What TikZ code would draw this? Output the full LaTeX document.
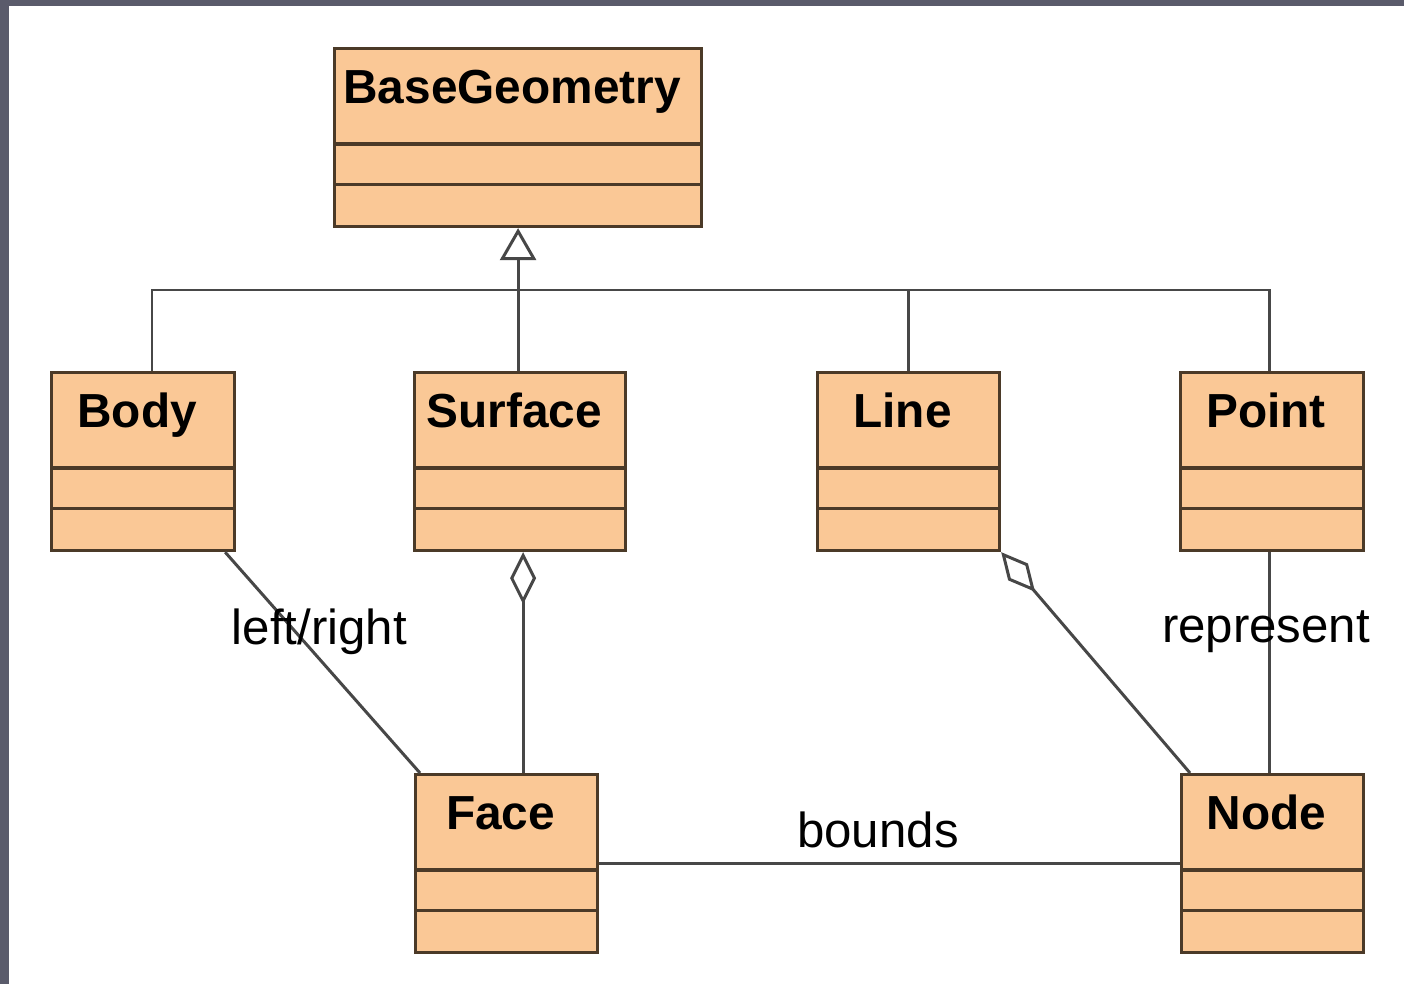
\documentclass[tikz,border=0pt]{standalone}
\usepackage{fontspec}
\setmainfont{Liberation Sans}
\usepackage{xcolor}
\usepackage{tikz}
\usetikzlibrary{positioning,arrows.meta}
\definecolor{clsfill}{HTML}{FAC896}
\definecolor{clsedge}{HTML}{4B3A28}
\definecolor{wire}{HTML}{474747}
\definecolor{frame}{HTML}{5A5B6B}

\begin{document}
\begin{tikzpicture}[
  cls/.style={draw=clsedge, line width=0.9pt, fill=clsfill, anchor=north west,
              inner sep=0pt, text height=0.55cm, text depth=1.23cm,
              execute at end node={\kern0.12cm},
              font=\bfseries\fontsize{13.6}{16}\selectfont},
  divider/.style={clsedge, line width=0.9pt},
  conn/.style={wire, line width=0.85pt},
  inherit/.style={conn, -{Triangle[open, length=0.32cm, width=0.36cm]}},
  aggr/.style={conn, {Diamond[open, length=0.52cm, width=0.26cm]}-},
  lbl/.style={font=\fontsize{14}{16}\selectfont, text=black},
]
\useasboundingbox (0,0) rectangle (14.04,9.84);
\fill[white] (0,0) rectangle (14.04,9.84);
\fill[frame] (0,9.78) rectangle (14.04,9.84);
\fill[frame] (0,0) rectangle (0.09,9.84);

% classes
\node[cls, minimum width=3.67cm] (geo) at (3.33,9.37) {BaseGeometry};
\node[cls, minimum width=1.83cm] (body) at (0.50,6.13) {Body};
\node[cls, minimum width=2.11cm] (surf) at (4.13,6.13) {Surface};
\node[cls, minimum width=1.82cm] (line) at (8.16,6.13) {Line};
\node[cls, minimum width=1.83cm] (pt) at (11.79,6.13) {Point};
\node[cls, minimum width=1.82cm] (face) at (4.14,2.11) {Face};
\node[cls, minimum width=1.82cm] (nd) at (11.80,2.11) {Node};

% attribute / operation compartments
\foreach \c in {geo,body,surf,line,pt,face,nd} {
  \draw[divider] ([yshift=-0.97cm]\c.north west) -- ([yshift=-0.97cm]\c.north east);
  \draw[divider] ([yshift=-1.375cm]\c.north west) -- ([yshift=-1.375cm]\c.north east);
}

% generalization bus
\coordinate (busL) at (1.52,6.94);
\coordinate (busR) at (12.69,6.94);
\draw[conn] (busL |- body.north) -- (busL) -- (busR) -- (busR |- pt.north);
\draw[conn] (line.north) -- (line.north |- busR);
\draw[inherit] (geo.south |- surf.north) -- (geo.south);

% associations
\draw[aggr] ([xshift=0.03cm]surf.south) -- ([xshift=0.03cm]surf.south |- face.north);
\draw[aggr] (line.south east) -- ([xshift=0.10cm]nd.north west);
\draw[conn] ([xshift=-0.11cm]body.south east) -- ([xshift=0.06cm]face.north west)
  node[lbl, pos=0.36, xshift=0.24cm] (lr) {left/right};
\draw[conn] (busR |- pt.south) -- (busR |- nd.north)
  node[lbl, pos=0.36, xshift=-0.03cm] (rep) {represent};
\draw[conn] (face.east) -- (nd.west)
  node[lbl, above, inner sep=4pt, pos=0.48] (bnd) {bounds};
\end{tikzpicture}
\end{document}
